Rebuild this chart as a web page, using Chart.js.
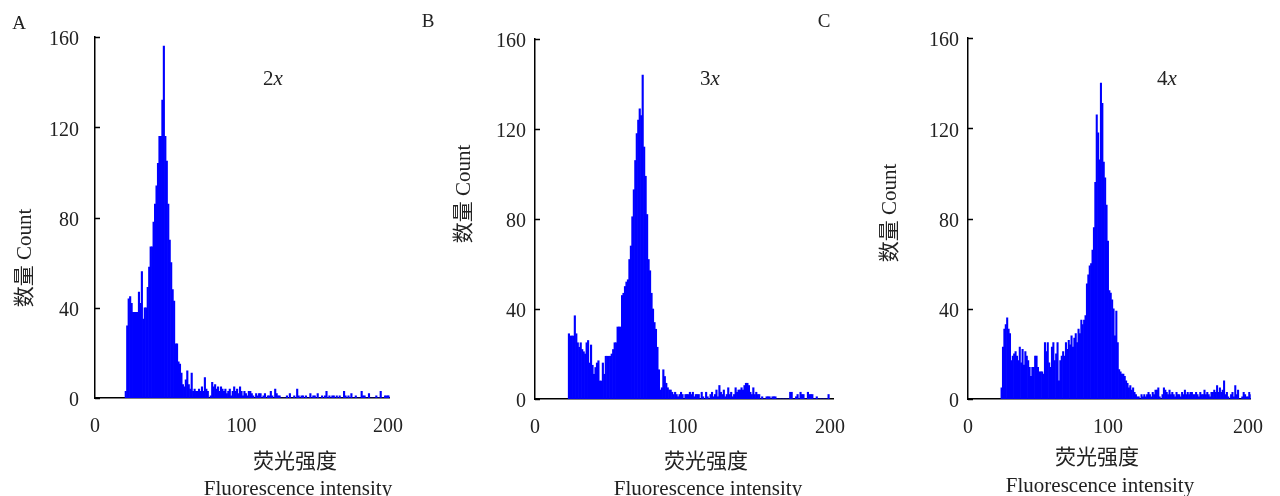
<!DOCTYPE html>
<html>
<head>
<meta charset="utf-8">
<script src="https://cdn.jsdelivr.net/npm/chart.js@4.4.1/dist/chart.umd.min.js"></script>
<style>
    body { margin: 0; background: #fff; }
    .panel { position: absolute; left: 0; top: 0; width: 1280px; height: 496px; }
</style>
</head>
<body>
<div class="panel"><canvas id="chart-a"></canvas></div>
<div class="panel"><canvas id="chart-b"></canvas></div>
<div class="panel"><canvas id="chart-c"></canvas></div>
<script>
// tick labels
const xTicks = [0, 100, 200];
const yTicks = [0, 40, 80, 120, 160];

// texts of the panels
const panelLetters = ['A', 'B', 'C'];
const panelTags = ['2', '3', '4'];   // followed by an italic "x"
const yTitle = '数量 Count';
const xTitleZh = '荧光强度';
const xTitleEn = 'Fluorescence intensity';

// counts per fluorescence intensity bin (1 unit wide), first bin = start
const startA = 21;
const countsA = [3, 32, 44, 45, 42, 38, 38, 38, 38, 47, 42, 56, 35, 40, 40, 49, 58, 67, 67, 78,
    86, 94, 104, 116, 116, 132, 156, 116, 105, 86, 70, 60, 48, 43, 24, 24, 16, 15, 11, 6,
    5, 8, 12, 6, 4, 11, 3, 4, 3, 3, 4, 3, 5, 3, 9, 4, 3, 0, 1, 7,
    5, 6, 4, 5, 3, 5, 4, 3, 4, 2, 3, 4, 1, 3, 5, 3, 4, 2, 5, 3,
    1, 3, 2, 1, 3, 3, 2, 1, 0, 2, 1, 2, 2, 0, 1, 2, 0, 1, 1, 3,
    1, 0, 4, 2, 1, 1, 0, 0, 0, 0, 1, 0, 2, 0, 0, 1, 0, 4, 1, 0,
    1, 1, 0, 1, 0, 0, 2, 0, 1, 1, 0, 2, 0, 0, 1, 0, 1, 3, 0, 1,
    0, 1, 1, 0, 1, 0, 1, 0, 0, 3, 1, 0, 1, 0, 2, 0, 0, 1, 0, 0,
    0, 3, 1, 1, 0, 0, 2, 0, 0, 0, 0, 1, 0, 0, 3, 0, 0, 1, 1, 1, 1];

const startB = 23;
const countsB = [29, 28, 28, 28, 37, 29, 25, 23, 25, 22, 21, 20, 25, 26, 16, 24, 15, 11, 14, 16,
    17, 8, 8, 16, 11, 19, 19, 19, 19, 20, 22, 25, 25, 32, 32, 32, 46, 47, 50, 52,
    53, 62, 68, 81, 93, 106, 118, 124, 129, 126, 144, 112, 99, 82, 62, 57, 47, 40, 34, 31,
    23, 13, 4, 5, 13, 10, 7, 5, 4, 4, 3, 2, 3, 2, 1, 2, 3, 2, 0, 2,
    2, 2, 3, 2, 3, 1, 2, 2, 2, 0, 3, 1, 0, 3, 1, 0, 2, 3, 1, 2,
    4, 1, 6, 3, 2, 4, 1, 2, 5, 2, 3, 1, 2, 5, 3, 4, 4, 5, 4, 6,
    7, 7, 6, 3, 2, 5, 2, 3, 2, 2, 0, 1, 0, 0, 1, 1, 1, 0, 1, 1,
    1, 0, 0, 0, 0, 0, 0, 0, 0, 0, 3, 3, 0, 0, 1, 2, 0, 3, 2, 2,
    0, 0, 3, 2, 2, 2, 0, 0, 1, 0, 0, 0, 0, 0, 0, 0, 2];

const startC = 24;
const countsC = [5, 23, 31, 33, 36, 31, 29, 17, 19, 20, 21, 19, 17, 23, 16, 22, 15, 21, 19, 17,
    14, 10, 14, 14, 19, 19, 14, 12, 12, 12, 11, 25, 21, 25, 16, 14, 23, 25, 17, 20,
    25, 8, 17, 19, 21, 19, 25, 22, 26, 24, 28, 23, 27, 29, 25, 31, 29, 35, 33, 35,
    37, 51, 55, 59, 60, 66, 76, 96, 126, 118, 106, 140, 131, 105, 98, 86, 70, 48, 47, 44,
    40, 28, 39, 25, 13, 12, 11, 11, 10, 8, 7, 5, 6, 4, 5, 3, 2, 1, 1, 0,
    2, 1, 2, 1, 2, 3, 2, 1, 3, 2, 4, 4, 5, 1, 0, 2, 5, 4, 3, 2,
    4, 2, 3, 2, 1, 3, 2, 2, 1, 3, 2, 4, 2, 3, 2, 3, 3, 2, 2, 3,
    2, 1, 3, 2, 2, 4, 2, 3, 2, 1, 3, 3, 4, 3, 6, 3, 5, 3, 4, 8,
    2, 3, 1, 0, 2, 3, 1, 6, 2, 4, 0, 0, 1, 3, 2, 1, 1, 3, 2];

const starts = [startA, startB, startC];
const counts = [countsA, countsB, countsC];

// where each panel sits on the page
const layouts = [
    { left: 95, right: 389.5, top: 37, bottom: 398, xMax: 201, yPad: 16,
      letter: [19, 24], tag: [273, 79], yTitle: [25, 258], xZh: [295, 462], xEn: [298, 489] },
    { left: 535, right: 833, top: 39, bottom: 399, xMax: 202, yPad: 9,
      letter: [428, 22], tag: [710, 79], yTitle: [464, 194], xZh: [706, 462], xEn: [708, 489] },
    { left: 968, right: 1268, top: 38, bottom: 399, xMax: 202, yPad: 9,
      letter: [824, 22], tag: [1167, 79], yTitle: [890, 213], xZh: [1097, 458], xEn: [1100, 486] }
];

const serif = '"Liberation Serif", "Times New Roman", serif';
const textColor = '#222';

// texts and small inward ticks on the y axis
const panelText = {
    id: 'panelText',
    afterDraw(chart, args, o) {
        let ctx = chart.ctx;
        let area = chart.chartArea;
        ctx.save();

        // inward ticks
        let ys = chart.scales.y;
        ctx.strokeStyle = '#000';
        ctx.lineWidth = 1.5;
        yTicks.forEach(v => {
            let py = Math.round(ys.getPixelForValue(v)) + 0.5;
            ctx.beginPath();
            ctx.moveTo(area.left, py);
            ctx.lineTo(area.left + 5, py);
            ctx.stroke();
        });

        ctx.fillStyle = textColor;
        ctx.textBaseline = 'middle';
        ctx.textAlign = 'center';

        ctx.font = '19px ' + serif;
        ctx.fillText(o.letter, o.pos.letter[0], o.pos.letter[1]);

        // "2x" with italic x
        ctx.font = '21px ' + serif;
        let w1 = ctx.measureText(o.tag).width;
        ctx.font = 'italic 21px ' + serif;
        let w2 = ctx.measureText('x').width;
        let x0 = o.pos.tag[0] - (w1 + w2) / 2;
        ctx.textAlign = 'left';
        ctx.font = '21px ' + serif;
        ctx.fillText(o.tag, x0, o.pos.tag[1]);
        ctx.font = 'italic 21px ' + serif;
        ctx.fillText('x', x0 + w1, o.pos.tag[1]);

        ctx.textAlign = 'center';
        ctx.font = '21px ' + serif + ', "Noto Sans CJK SC"';
        ctx.fillText(xTitleZh, o.pos.xZh[0], o.pos.xZh[1]);
        ctx.font = '21px ' + serif;
        ctx.fillText(xTitleEn, o.pos.xEn[0], o.pos.xEn[1]);

        ctx.translate(o.pos.yTitle[0], o.pos.yTitle[1]);
        ctx.rotate(-Math.PI / 2);
        ctx.font = '21px ' + serif + ', "Noto Sans CJK SC"';
        ctx.fillText(yTitle, 0, 0);

        ctx.restore();
    }
};

['chart-a', 'chart-b', 'chart-c'].forEach((id, k) => {
    let L = layouts[k];
    let ctx = document.getElementById(id).getContext('2d');
    new Chart(ctx, {
        type: 'bar',
        data: {
            datasets: [{
                data: counts[k].map((v, i) => ({ x: starts[k] + i, y: v })),
                backgroundColor: '#0000ff',
                borderWidth: 0,
                barPercentage: 1,
                categoryPercentage: 1
            }]
        },
        plugins: [panelText],
        options: {
            responsive: true,
            maintainAspectRatio: false,
            animation: false,
            events: [],
            layout: {
                padding: {
                    left: L.left - 60,
                    right: 1280 - L.right,
                    top: L.top,
                    bottom: 496 - L.bottom - 40
                }
            },
            plugins: {
                legend: { display: false },
                tooltip: { enabled: false },
                panelText: { letter: panelLetters[k], tag: panelTags[k], pos: L }
            },
            scales: {
                x: {
                    type: 'linear',
                    min: 0,
                    max: L.xMax,
                    offset: false,
                    afterFit: s => { s.height = 40; },
                    afterBuildTicks: s => { s.ticks = xTicks.map(v => ({ value: v })); },
                    grid: { display: false, drawTicks: false },
                    border: { display: true, color: '#000', width: 1.5 },
                    ticks: {
                        padding: 17,
                        color: textColor,
                        maxRotation: 0,
                        autoSkip: false,
                        font: { family: serif, size: 20 }
                    }
                },
                y: {
                    min: 0,
                    max: 160,
                    afterFit: s => { s.width = 60; },
                    afterBuildTicks: s => { s.ticks = yTicks.map(v => ({ value: v })); },
                    grid: { display: false, drawTicks: false },
                    border: { display: true, color: '#000', width: 1.5 },
                    ticks: {
                        padding: L.yPad,
                        labelOffset: 3,
                        color: textColor,
                        font: { family: serif, size: 20 }
                    }
                }
            }
        }
    });
});
</script>
</body>
</html>
